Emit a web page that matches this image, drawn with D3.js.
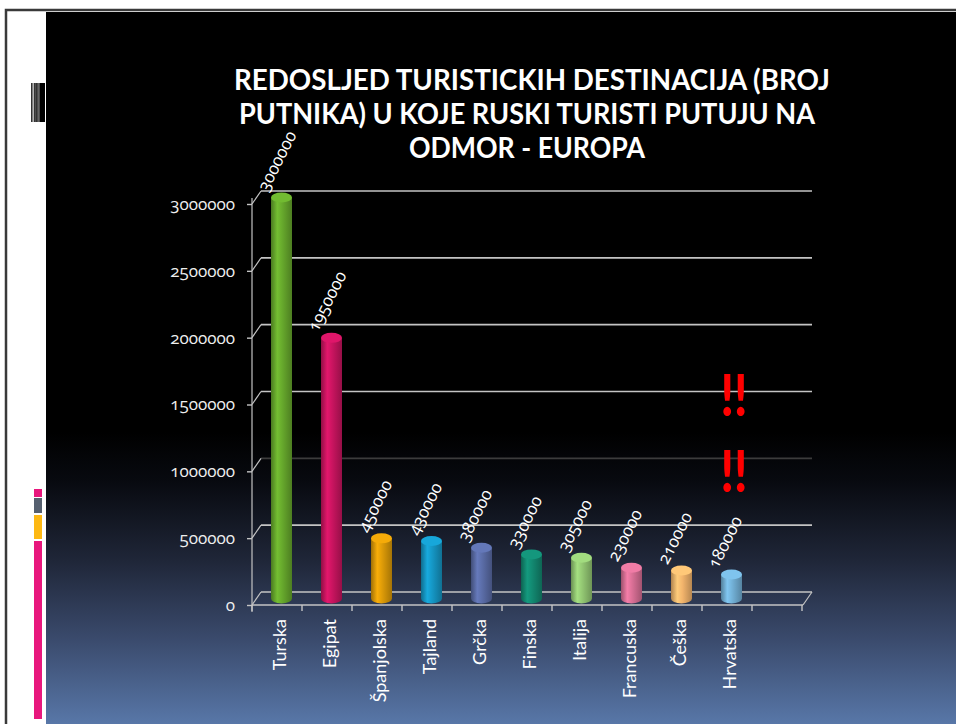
<!DOCTYPE html>
<html>
<head>
<meta charset="utf-8">
<script src="https://cdn.jsdelivr.net/npm/d3@7"></script>
<style>
  html, body { margin: 0; padding: 0; background: #fff; }
  svg { display: block; }
  text { font-family: Lato, "Open Sans", sans-serif; }
  .num { font-family: "Open Sans", Lato, sans-serif; font-feature-settings: "onum" 1; font-variant-numeric: oldstyle-nums; }
</style>
</head>
<body>
<svg id="chart" width="956" height="724"></svg>
<script>
// Destinations and number of Russian tourists travelling there
const categories = ["Turska", "Egipat", "Španjolska", "Tajland", "Grčka", "Finska", "Italija", "Francuska", "Češka", "Hrvatska"];
const travellers = [3000000, 1950000, 450000, 430000, 380000, 330000, 305000, 230000, 210000, 180000];
const barColors = ["#66a82c", "#c8145f", "#dc9a08", "#1596c4", "#5a6ca6", "#128870", "#92c672", "#d86f95", "#f2b46c", "#72b0d6"];
const yTicks = [0, 500000, 1000000, 1500000, 2000000, 2500000, 3000000];
const titleLines = [
  "REDOSLJED TURISTICKIH DESTINACIJA (BROJ",
  "PUTNIKA) U KOJE RUSKI TURISTI PUTUJU NA",
  "ODMOR - EUROPA"
];

const svg = d3.select("#chart");
const defs = svg.append("defs");

// ---- slide frame and background ----
svg.append("rect").attr("x", 6).attr("y", 10).attr("width", 960).attr("height", 730)
  .attr("fill", "#fff").attr("stroke", "#3a3a3a").attr("stroke-width", 2.5);

const bg = defs.append("linearGradient").attr("id", "bg")
  .attr("gradientUnits", "userSpaceOnUse").attr("x1", 0).attr("y1", 12).attr("x2", 0).attr("y2", 724);
[[0, "#000"], [0.59, "#000"], [0.66, "#080a10"], [0.77, "#1f2638"], [0.88, "#3a4a6c"], [1, "#5877a8"]]
  .forEach(([o, c]) => bg.append("stop").attr("offset", o).attr("stop-color", c));
svg.append("rect").attr("x", 46).attr("y", 12).attr("width", 910).attr("height", 712).attr("fill", "url(#bg)");

// barcode ornament on the white margin
const bars = [[31, 0.8], [32.5, 0.8], [34, 0.8], [35.3, 1.5], [37.3, 1.3], [39.3, 5.7]];
svg.append("g").selectAll("rect").data(bars).join("rect")
  .attr("x", d => d[0]).attr("y", 83).attr("width", d => d[1]).attr("height", 39).attr("fill", "#000");

// coloured stripes on the lower margin
const stripes = [[489, 497, "#e8177d"], [498, 513, "#566070"], [515, 539, "#fdb813"], [541, 719, "#e8177d"]];
svg.append("g").selectAll("rect").data(stripes).join("rect")
  .attr("x", 34).attr("width", 8).attr("y", d => d[0]).attr("height", d => d[1] - d[0]).attr("fill", d => d[2]);

// ---- title ----
const titleWidths = [596, 576, 236];
const titleX = [532, 527, 527];
svg.append("g").selectAll("text").data(titleLines).join("text")
  .attr("x", (d, i) => titleX[i]).attr("y", (d, i) => 90 + i * 34)
  .attr("text-anchor", "middle").attr("fill", "#fff")
  .attr("font-weight", 700).attr("font-size", 29)
  .attr("textLength", (d, i) => titleWidths[i]).attr("lengthAdjust", "spacingAndGlyphs")
  .text(d => d);

// ---- scales ----
const depthX = 9, depthY = -13;          // back wall offset
const x = d3.scaleBand().domain([...categories, ""]).range([252, 802]);
const y = d3.scaleLinear().domain([0, 3000000]).range([605, 204]);

const axisColor = "#c4c4c4";
const g = svg.append("g");

// back wall gridlines
g.append("g").selectAll("line").data(yTicks).join("line")
  .attr("x1", 252 + depthX).attr("x2", 803 + depthX)
  .attr("y1", d => y(d) + depthY).attr("y2", d => y(d) + depthY)
  .attr("stroke", d => d === 1000000 ? "#3c3c3c" : axisColor).attr("stroke-width", 1.6);

// slanted connectors from axis ticks to the wall
g.append("g").selectAll("line").data(yTicks).join("line")
  .attr("x1", 252).attr("y1", d => y(d))
  .attr("x2", 252 + depthX).attr("y2", d => y(d) + depthY)
  .attr("stroke", axisColor).attr("stroke-width", 1.2);

// front vertical axis with ticks and labels
const yAxis = d3.axisLeft(y).tickValues(yTicks).tickSize(5).tickPadding(12).tickFormat(d3.format("d"));
const ya = g.append("g").attr("transform", "translate(252,0)").call(yAxis);
ya.select(".domain").attr("stroke", axisColor).attr("stroke-width", 1.2).attr("d", "M0,198V612");
ya.selectAll(".tick line").attr("stroke", axisColor).attr("stroke-width", 1.4);
ya.selectAll(".tick text").attr("class", "num").attr("fill", "#eee").attr("font-size", 17)
  .attr("font-family", null);

// floor: front edge with category ticks, right-hand slant
const xa = g.append("g").attr("transform", "translate(0,605)")
  .call(d3.axisBottom(x).tickSize(0).tickFormat(""));
xa.select(".domain").attr("stroke", axisColor).attr("stroke-width", 1.6).attr("d", "M252,0H803");
const bounds = d3.range(x.domain().length + 1).map(i => x.range()[0] + i * x.step());
g.append("g").selectAll("line").data(bounds).join("line")
  .attr("x1", d => d).attr("x2", d => d).attr("y1", 605).attr("y2", 611)
  .attr("stroke", axisColor).attr("stroke-width", 1.4);
g.append("line").attr("x1", 803).attr("y1", 605).attr("x2", 803 + depthX).attr("y2", 605 + depthY)
  .attr("stroke", axisColor).attr("stroke-width", 1.2);

// ---- cylinders ----
const barW = 21, ry = 5;
const midX = depthX / 2, midY = depthY / 2;
barColors.forEach((c, i) => {
  const col = d3.color(c);
  const gr = defs.append("linearGradient").attr("id", "cyl" + i).attr("x1", 0).attr("x2", 1).attr("y1", 0).attr("y2", 0);
  [[0, col.darker(0.9)], [0.3, col.brighter(0.35)], [0.55, col], [1, col.darker(0.8)]]
    .forEach(([o, s]) => gr.append("stop").attr("offset", o).attr("stop-color", s.formatHex()));
});

const data = categories.map((c, i) => ({ cat: c, v: travellers[i], color: barColors[i], i }));
const cyl = g.append("g").selectAll("g").data(data).join("g");
cyl.each(function (d) {
  const s = d3.select(this);
  const cx = x(d.cat) + x.bandwidth() / 2 + midX;
  const base = y(0) + midY, top = y(d.v) + midY;
  s.append("ellipse").attr("cx", cx).attr("cy", base).attr("rx", barW / 2).attr("ry", ry)
    .attr("fill", `url(#cyl${d.i})`);
  s.append("rect").attr("x", cx - barW / 2).attr("y", top).attr("width", barW).attr("height", base - top)
    .attr("fill", `url(#cyl${d.i})`);
  s.append("ellipse").attr("cx", cx).attr("cy", top).attr("rx", barW / 2).attr("ry", ry)
    .attr("fill", d3.color(d.color).brighter(0.3).formatHex());
  // value label
  s.append("text").attr("class", "num")
    .attr("transform", `translate(${cx - 14},${top - 5}) rotate(-63)`)
    .attr("fill", "#fff").attr("font-size", 17)
    .text(d.v);
});

// category labels
g.append("g").selectAll("text").data(categories).join("text")
  .attr("transform", d => `translate(${x(d) + x.bandwidth() / 2 + 2},619) rotate(-90)`)
  .attr("text-anchor", "end").attr("dominant-baseline", "central")
  .attr("fill", "#fff").attr("font-size", 18)
  .text(d => d);

// ---- emphasis marks ----
[396, 472].forEach(yy => {
  svg.append("text").attr("x", 734).attr("y", yy + 20).attr("text-anchor", "middle")
    .attr("fill", "#ff0000").attr("font-weight", 900).attr("font-size", 58)
    .attr("textLength", 27).attr("lengthAdjust", "spacingAndGlyphs")
    .text("!!");
});
</script>
</body>
</html>
